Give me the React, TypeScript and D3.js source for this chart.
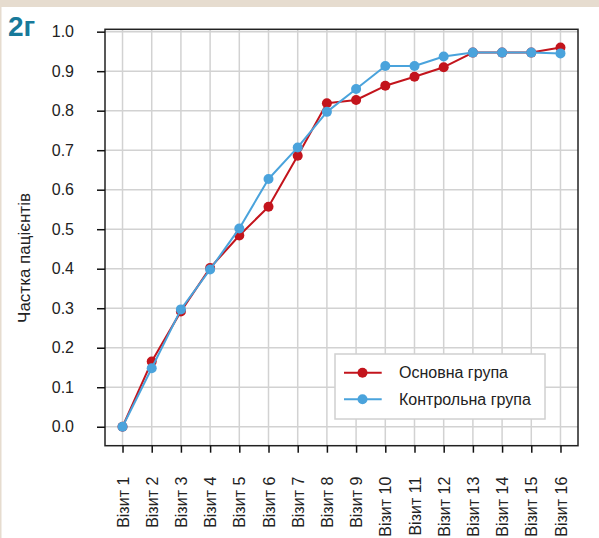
import React, { useEffect, useRef } from "react";
import * as d3 from "d3";

const visits = ["Візит 1", "Візит 2", "Візит 3", "Візит 4", "Візит 5", "Візит 6", "Візит 7", "Візит 8",
  "Візит 9", "Візит 10", "Візит 11", "Візит 12", "Візит 13", "Візит 14", "Візит 15", "Візит 16"];
const mainGroup = [0, 0.165, 0.292, 0.402, 0.484, 0.557, 0.686, 0.819, 0.827, 0.863, 0.886, 0.910, 0.947, 0.947, 0.947, 0.960];
const controlGroup = [0, 0.148, 0.297, 0.398, 0.502, 0.627, 0.707, 0.797, 0.855, 0.913, 0.913, 0.937, 0.947, 0.947, 0.947, 0.945];
const yTicks = [0, 0.1, 0.2, 0.3, 0.4, 0.5, 0.6, 0.7, 0.8, 0.9, 1.0];
const seriesNames = ["Основна група", "Контрольна група"];

const RED = "#c3141c";
const BLUE = "#4aa3dc";
const FONT = "'Liberation Sans', Arial, sans-serif";

export default function App() {
  const ref = useRef<SVGSVGElement>(null);

  useEffect(() => {
    const svg = d3.select(ref.current);
    svg.selectAll("*").remove();
    const W = 599, H = 538;
    const left = 105, right = 578, top = 29.3, bottom = 445.7;

    // page frame
    svg.append("rect").attr("width", W).attr("height", H).attr("fill", "#fff");
    svg.append("rect").attr("width", W).attr("height", 7).attr("fill", "#e6dccf");
    svg.append("rect").attr("width", 1.5).attr("height", H).attr("fill", "#e6dccf");

    var x = d3.scalePoint<string>().domain(visits).range([left, right]).padding(0.6);
    var y = d3.scaleLinear().domain([-0.048, 1.006]).range([bottom, top]);

    // grid
    const grid = svg.append("g").attr("stroke", "#d2d2d2").attr("stroke-width", 1.5);
    visits.forEach(v => {
      grid.append("line").attr("x1", x(v)!).attr("x2", x(v)!).attr("y1", top).attr("y2", bottom);
    });
    yTicks.forEach(t => {
      grid.append("line").attr("x1", left).attr("x2", right).attr("y1", y(t)).attr("y2", y(t));
    });

    // frame box
    svg.append("rect")
      .attr("x", left).attr("y", top)
      .attr("width", right - left).attr("height", bottom - top)
      .attr("fill", "none").attr("stroke", "#222").attr("stroke-width", 1.5);

    // axes
    const yAxis = svg.append("g")
      .attr("transform", "translate(" + left + ",0)")
      .call(d3.axisLeft(y).tickValues(yTicks).tickFormat(d3.format(".1f")).tickSize(8).tickPadding(23));
    yAxis.select(".domain").remove();
    yAxis.selectAll("line").attr("stroke", "#111").attr("stroke-width", 1.5);
    yAxis.selectAll("text").attr("font-family", FONT).attr("font-size", 16).attr("fill", "#222");

    const xAxis = svg.append("g")
      .attr("transform", "translate(0," + bottom + ")")
      .call(d3.axisBottom(x).tickSize(7).tickPadding(6));
    xAxis.select(".domain").remove();
    xAxis.selectAll("line").attr("stroke", "#111").attr("stroke-width", 1.5);
    xAxis.selectAll("text")
      .attr("font-family", FONT).attr("font-size", 16).attr("fill", "#222")
      .attr("transform", "rotate(-90)")
      .attr("text-anchor", "end")
      .attr("x", -31).attr("y", 0).attr("dy", "0.35em");

    // y title
    svg.append("text")
      .attr("transform", "translate(30,258) rotate(-90)")
      .attr("text-anchor", "middle")
      .attr("font-family", FONT).attr("font-size", 17).attr("fill", "#222")
      .text("Частка пацієнтів");

    // panel label
    svg.append("text")
      .attr("x", 8).attr("y", 36)
      .attr("font-family", FONT).attr("font-size", 28).attr("font-weight", "bold")
      .attr("fill", "#17799a")
      .text("2г");

    const line = d3.line<number>()
      .x((d, i) => x(visits[i])!)
      .y(d => y(d));

    [[mainGroup, RED], [controlGroup, BLUE]].forEach(([data, color]) => {
      const vals = data as number[];
      svg.append("path")
        .datum(vals)
        .attr("fill", "none")
        .attr("stroke", color as string)
        .attr("stroke-width", 2)
        .attr("stroke-linejoin", "round")
        .attr("d", line);
      svg.append("g").selectAll("circle")
        .data(vals).enter().append("circle")
        .attr("cx", (d, i) => x(visits[i])!)
        .attr("cy", d => y(d))
        .attr("r", 5)
        .attr("fill", color as string);
    });

    // legend
    const lg = svg.append("g");
    lg.append("rect")
      .attr("x", 335).attr("y", 354).attr("width", 210).attr("height", 65)
      .attr("fill", "#fff").attr("stroke", "#d0d0d0").attr("stroke-width", 1.5);
    [RED, BLUE].forEach((c, i) => {
      const ly = 372.7 + i * 26.6;
      lg.append("line").attr("x1", 344).attr("x2", 381.7).attr("y1", ly).attr("y2", ly)
        .attr("stroke", c).attr("stroke-width", 2);
      lg.append("circle").attr("cx", 362.5).attr("cy", ly).attr("r", 5).attr("fill", c);
      lg.append("text").attr("x", 399).attr("y", ly).attr("dy", "0.35em")
        .attr("font-family", FONT).attr("font-size", 16).attr("fill", "#222")
        .text(seriesNames[i]);
    });
  }, []);

  return (
    <svg ref={ref} width={599} height={538}
      style={{ position: "absolute", left: 0, top: 0, display: "block" }} />
  );
}
